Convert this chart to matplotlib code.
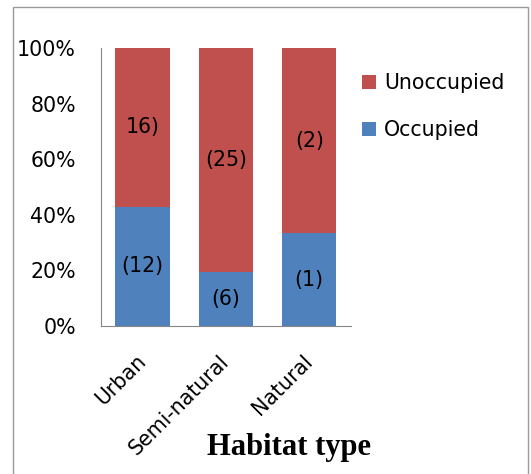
import numpy as np
import matplotlib.pyplot as plt
from matplotlib.patches import Rectangle

# habitat categories and counts
habitats = ['Urban', 'Semi-natural', 'Natural']
occupied = [12, 6, 1]
unoccupied = [16, 25, 2]
occ_labels = ['(12)', '(6)', '(1)']
unocc_labels = ['16)', '(25)', '(2)']

occ = np.array(occupied, dtype=float)
unocc = np.array(unoccupied, dtype=float)
total = occ + unocc
occ_pct = occ / total * 100
unocc_pct = unocc / total * 100

fig = plt.figure(figsize=(5.31, 4.74), dpi=100)
ax = fig.add_axes([0.190, 0.312, 0.471, 0.587])

x = np.arange(len(habitats))
w = 0.65
b1 = ax.bar(x, occ_pct, w, color='#4F81BD', label='Occupied')
b2 = ax.bar(x, unocc_pct, w, bottom=occ_pct, color='#C0504D', label='Unoccupied')

fs = 14.8
for i in range(len(x)):
    ax.text(x[i], occ_pct[i] / 2, occ_labels[i], ha='center', va='center',
            fontsize=fs)
    ax.text(x[i], occ_pct[i] + unocc_pct[i] / 2, unocc_labels[i], ha='center',
            va='center', fontsize=fs)

ax.set_xlim(-0.5, 2.5)
ax.set_ylim(0, 100)
ax.set_yticks([0, 20, 40, 60, 80, 100])
ax.set_yticklabels(['0%', '20%', '40%', '60%', '80%', '100%'], fontsize=fs)
ax.set_xticks(x)
ax.set_xticklabels(habitats, rotation=45, ha='right', va='center',
                   rotation_mode='anchor', fontsize=fs)
ax.tick_params(axis='both', length=0)
ax.tick_params(axis='y', pad=18)
ax.tick_params(axis='x', pad=23)
for s in ['top', 'right']:
    ax.spines[s].set_visible(False)
for s in ['left', 'bottom']:
    ax.spines[s].set_color('#868686')

fig.text(289 / 531, 1 - 448 / 474, 'Habitat type', fontsize=22,
         fontweight='bold', family='Liberation Serif', ha='center', va='center')

handles = [b2, b1]
leg = fig.legend(handles, ['Unoccupied', 'Occupied'], loc='upper left',
                 bbox_to_anchor=(0.646, 0.884), frameon=False, fontsize=fs,
                 handlelength=0.7, handleheight=0.7, handletextpad=0.4,
                 labelspacing=1.3)

# outer border of the chart area
fig.patches.append(Rectangle((13 / 531, -0.05), 515 / 531, 1 - 7 / 474 + 0.05,
                             transform=fig.transFigure, fill=False,
                             edgecolor='#999999', linewidth=1))

fig.savefig('out.png', dpi=100)
